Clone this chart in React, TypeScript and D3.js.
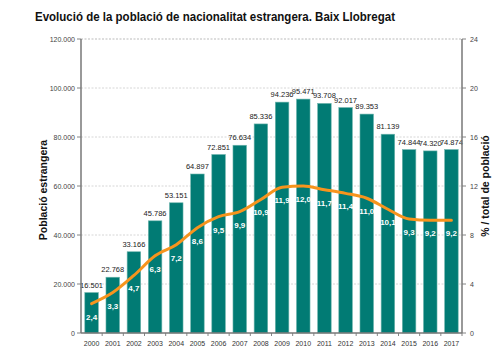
import React from "react";
import * as d3 from "d3";

const years = ["2000","2001","2002","2003","2004","2005","2006","2007","2008","2009","2010","2011","2012","2013","2014","2015","2016","2017"];
const population = [16501,22768,33166,45786,53151,64897,72851,76634,85336,94236,95471,93708,92017,89353,81139,74844,74320,74874];
const percent = [2.4,3.3,4.7,6.3,7.2,8.6,9.5,9.9,10.9,11.9,12.0,11.7,11.4,11.0,10.1,9.3,9.2,9.2];
const leftTicks = [0,20000,40000,60000,80000,100000,120000];
const rightTicks = [0,4,8,12,16,20,24];

const title = "Evolució de la població de nacionalitat estrangera. Baix Llobregat";
const leftTitle = "Població estrangera";
const rightTitle = "% / total de població";

export default function App() {
  const W = 500, H = 357;
  const L = 81, R = 462, T = 39, B = 333;
  const x = d3.scaleBand().domain(years).range([L, R]).paddingInner(0.36).paddingOuter(0.18);
  const y = d3.scaleLinear().domain([0, 120000]).range([B, T]);
  const y2 = d3.scaleLinear().domain([0, 24]).range([B, T]);
  const fmtInt = (v: number) => d3.format(",")(v).replace(/,/g, ".");
  const fmtDec = (v: number) => v.toFixed(1).replace(".", ",");
  const line = d3.line<number>()
    .x((_, i) => (x(years[i]) as number) + x.bandwidth() / 2)
    .y((d) => y2(d))
    .curve(d3.curveMonotoneX);
  const font = "'Liberation Sans', Arial, sans-serif";
  const step = (R - L) / years.length;
  return (
    <svg width={W} height={H} style={{ position: "absolute", left: 0, top: 0 }} fontFamily={font}>
      <rect width={W} height={H} fill="#fff" />
      <text x={35} y={21} fontSize={12.5} fontWeight="bold" fill="#111" textLength={360} lengthAdjust="spacingAndGlyphs">{title}</text>
      {leftTicks.map((t) => (
        <g key={"g" + t}>
          {t > 0 && <line x1={L} x2={R} y1={y(t)} y2={y(t)} stroke={t === 120000 ? "#aaa" : "#ccc"} strokeDasharray="2,1.5" strokeWidth={0.8} />}
          <line x1={L - 4} x2={L} y1={y(t)} y2={y(t)} stroke="#666" strokeWidth={0.8} />
          <text x={L - 6} y={y(t) + 2.5} fontSize={7} textAnchor="end" fill="#444">{t === 0 ? "0" : fmtInt(t)}</text>
        </g>
      ))}
      {rightTicks.map((t) => (
        <g key={"r" + t}>
          <line x1={R} x2={R + 4} y1={y2(t)} y2={y2(t)} stroke="#666" strokeWidth={0.8} />
          <text x={R + 8} y={y2(t) + 2.5} fontSize={7} textAnchor="start" fill="#444">{t}</text>
        </g>
      ))}
      {years.map((yr, i) => (
        <g key={yr}>
          <line x1={L + step * (i + 1)} x2={L + step * (i + 1)} y1={B} y2={B + 3} stroke="#666" strokeWidth={0.8} />
          <text x={(x(yr) as number) + x.bandwidth() / 2} y={346} fontSize={7} textAnchor="middle" fill="#333">{yr}</text>
        </g>
      ))}
      {population.map((v, i) => (
        <g key={"b" + i}>
          <rect x={x(years[i]) as number} y={y(v)} width={x.bandwidth()} height={B - y(v)} fill="#017B74" stroke="#6fb5ad" strokeWidth={0.6} />
          <text x={(x(years[i]) as number) + x.bandwidth() / 2} y={y(v) - 5} fontSize={7.5} textAnchor="middle" fill="#222">{fmtInt(v)}</text>
        </g>
      ))}
      <path d={line(percent) || ""} fill="none" stroke="#F7941D" strokeWidth={3} strokeLinejoin="round" strokeLinecap="round" />
      {percent.map((v, i) => (
        <text key={"p" + i} x={(x(years[i]) as number) + x.bandwidth() / 2} y={y2(v) + 16} fontSize={8} fontWeight="bold" textAnchor="middle" fill="#fff">{fmtDec(v)}</text>
      ))}
      <line x1={L} x2={L} y1={T} y2={B} stroke="#777" strokeWidth={1.5} />
      <line x1={R} x2={R} y1={T} y2={B} stroke="#777" strokeWidth={1.5} />
      <line x1={L} x2={R} y1={B} y2={B} stroke="#777" strokeWidth={1.5} />
      <text transform={`translate(47,${190}) rotate(-90)`} fontSize={10.5} fontWeight="bold" textAnchor="middle" fill="#111">{leftTitle}</text>
      <text transform={`translate(489,${186}) rotate(-90)`} fontSize={10.5} fontWeight="bold" textAnchor="middle" fill="#111">{rightTitle}</text>
    </svg>
  );
}
